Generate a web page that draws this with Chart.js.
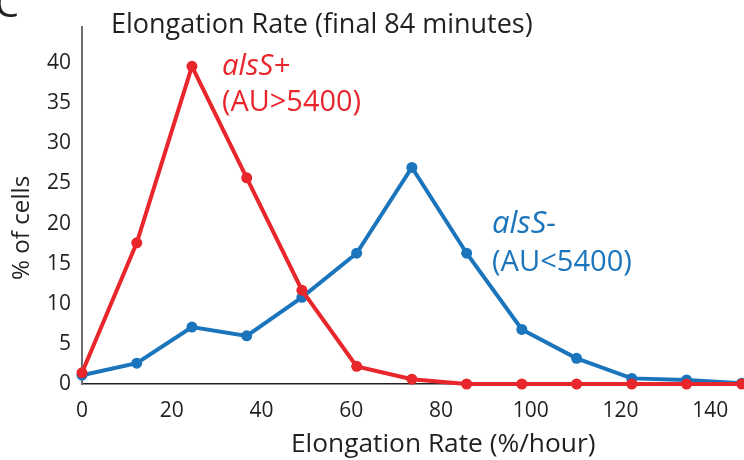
<!DOCTYPE html>
<html>
<head>
<meta charset="utf-8">
<script src="https://cdn.jsdelivr.net/npm/chart.js@4"></script>
<style>
    body { margin: 0; background: #fff; }
    #wrap { width: 744px; height: 460px; }
</style>
</head>
<body>
<div id="wrap"><canvas id="lineChart"></canvas></div>
<script>
// Data
const rateBins = [0, 12.2, 24.5, 36.7, 49, 61.2, 73.5, 85.7, 98, 110.2, 122.5, 134.7, 147];
const alsSPlus = [1.4, 17.6, 39.6, 25.7, 11.7, 2.2, 0.6, 0, 0, 0, 0, 0, 0];
const alsSMinus = [1.1, 2.6, 7.1, 6.0, 10.8, 16.3, 27.0, 16.3, 6.8, 3.2, 0.7, 0.5, 0.1];
const xTicks = [0, 20, 40, 60, 80, 100, 120, 140];
const yTicks = [0, 5, 10, 15, 20, 25, 30, 35, 40];

const RED = '#e8262b';
const BLUE = '#1b75bc';
const INK = '#231f20';
const FONT = "'Open Sans'";

// draw text sized so that it spans a given width
function fitText(ctx, text, x, y, width, style, color) {
    ctx.font = style + ' 20px ' + FONT;
    let size = 20 * width / ctx.measureText(text).width;
    ctx.font = style + ' ' + size.toFixed(1) + 'px ' + FONT;
    ctx.fillStyle = color;
    ctx.textAlign = 'left';
    ctx.textBaseline = 'alphabetic';
    ctx.fillText(text, x, y);
}

const labelsPlugin = {
    id: 'labels',
    afterDraw(chart) {
        const ctx = chart.ctx;
        ctx.save();
        // panel letter, cut at the top edge
        ctx.font = '38px ' + FONT;
        ctx.fillStyle = INK;
        ctx.textBaseline = 'alphabetic';
        ctx.fillText('C', -5, 17);

        fitText(ctx, 'Elongation Rate (final 84 minutes)', 111, 33, 422, '', INK);
        fitText(ctx, 'Elongation Rate (%/hour)', 291, 452, 304, '', INK);

        fitText(ctx, 'alsS+', 222, 75, 68, 'italic', RED);
        fitText(ctx, '(AU>5400)', 222, 111, 139, '', RED);
        fitText(ctx, 'alsS-', 492, 233, 64, 'italic', BLUE);
        fitText(ctx, '(AU<5400)', 492, 271, 140, '', BLUE);

        // y axis title
        ctx.translate(29, 228);
        ctx.rotate(-Math.PI / 2);
        fitText(ctx, '% of cells', -52, 0, 104, '', INK);
        ctx.restore();
    }
};

function points(values) {
    return values.map((v, i) => ({ x: rateBins[i], y: v }));
}

const ctxLine = document.getElementById('lineChart');
let elongationChart = new Chart(ctxLine, {
    type: 'line',
    data: {
        datasets: [
            {
                label: 'alsS+ (AU>5400)',
                data: points(alsSPlus),
                borderColor: RED,
                backgroundColor: RED,
                order: 0
            },
            {
                label: 'alsS- (AU<5400)',
                data: points(alsSMinus),
                borderColor: BLUE,
                backgroundColor: BLUE,
                order: 1
            }
        ]
    },
    options: {
        responsive: true,
        maintainAspectRatio: false,
        animation: false,
        layout: { autoPadding: false, padding: { top: 27, left: 0, right: 0, bottom: 0 } },
        elements: {
            line: { borderWidth: 4, tension: 0 },
            point: { radius: 5.5, borderWidth: 0, hoverRadius: 5.5 }
        },
        datasets: { line: { clip: false } },
        plugins: {
            legend: { display: false },
            tooltip: { enabled: false }
        },
        scales: {
            x: {
                type: 'linear',
                min: 0,
                max: 147.5,
                afterBuildTicks: (scale) => { scale.ticks = xTicks.map(v => ({ value: v })); },
                afterFit: (scale) => {
                    scale.height = 76;
                    scale.paddingLeft = 0;
                    scale.paddingRight = 0;
                },
                grid: { display: false, drawTicks: false },
                border: { color: INK, width: 1.5 },
                ticks: { color: INK, font: { family: 'Open Sans', size: 21 }, padding: 14, maxRotation: 0 }
            },
            y: {
                min: 0,
                max: 44.5,
                afterBuildTicks: (scale) => { scale.ticks = yTicks.map(v => ({ value: v })); },
                afterFit: (scale) => {
                    scale.width = 82;
                    scale.paddingTop = 0;
                    scale.paddingBottom = 0;
                },
                grid: { display: false, drawTicks: false },
                border: { color: '#6d6e71', width: 2 },
                ticks: { color: INK, font: { family: 'Open Sans', size: 21 }, padding: 11 }
            }
        }
    },
    plugins: [labelsPlugin]
});
</script>
</body>
</html>
